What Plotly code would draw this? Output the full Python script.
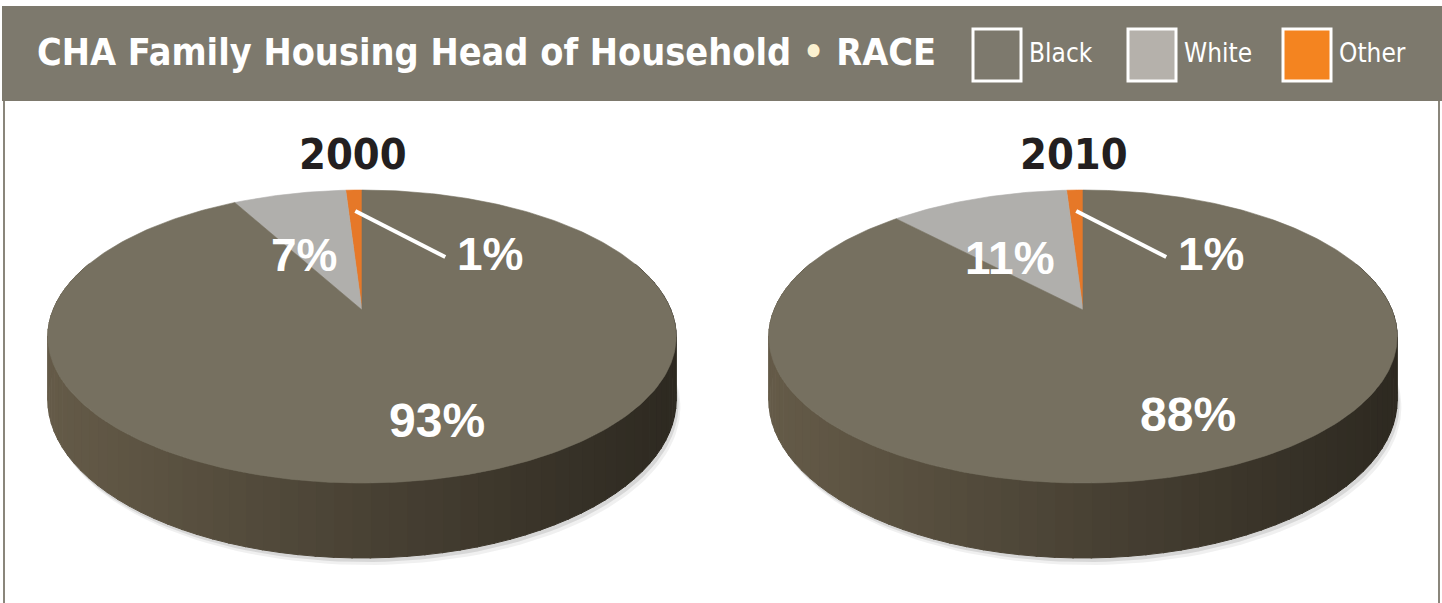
import numpy as np
import plotly.graph_objects as go

# ---------------- data ----------------
categories = ["Black", "White", "Other"]
years = ["2000", "2010"]
values_2000 = [93, 7, 1]
values_2010 = [88, 11, 1]
series = {"2000": values_2000, "2010": values_2010}
title_text = "CHA Family Housing Head of Household"
title_topic = "RACE"

# ---------------- style ----------------
slice_colors = {"Black": (118, 112, 96), "White": (176, 175, 172), "Other": (230, 120, 40)}
legend_colors = {"Black": "#7D796D", "White": "#B5B1AB", "Other": "#F48420"}
draw_order = ["Other", "White", "Black"]  # counter-clockwise from 12 o'clock
HEADER_BG = "#7D796D"
NARROW = "Liberation Sans Narrow, DejaVu Sans Condensed, Liberation Sans, Arial, sans-serif"
BOLDF = "Liberation Sans, Arial, sans-serif"

W, HGT = 1442, 603
pie_centers = {"2000": (362, 310), "2010": (1083, 310)}
RX, RY, PERSP, DEPTH = 309, 141.7, 0.181, 61.4


def project(cx, cy, u, v, drop=0.0):
    w = 1 - PERSP * v
    return cx + RX * u / w, cy + RY * v / w + drop / w


def frac_to_uv(f, r=1.0):
    t = -np.pi / 2 - 2 * np.pi * np.asarray(f)
    return r * np.cos(t), r * np.sin(t)


def rgb(c, s=1.0):
    return "rgb(%d,%d,%d)" % tuple(int(max(0, min(255, x * s))) for x in c)


fig = go.Figure()
annotations = []

for yr in years:
    cx, cy = pie_centers[yr]
    vals = dict(zip(categories, series[yr]))
    total = float(sum(vals.values()))
    bounds = {}
    acc = 0.0
    for cat in draw_order:
        f0 = acc
        acc += vals[cat] / total
        bounds[cat] = (f0, acc)

    def cat_at(f):
        f = f % 1.0
        for cat in draw_order:
            if bounds[cat][0] <= f <= bounds[cat][1]:
                return cat
        return draw_order[-1]

    # soft shadow under the pie
    tt = np.linspace(0, 2 * np.pi, 200)
    for off, alpha in [(7, 0.06), (4, 0.10)]:
        xs, ys = project(cx, cy, np.cos(tt), np.sin(tt), DEPTH)
        fig.add_trace(go.Scatter(x=xs + off * 0.6, y=ys + off, mode="lines", fill="toself",
                                 fillcolor="rgba(0,0,0,%g)" % alpha, line=dict(width=0),
                                 hoverinfo="skip", showlegend=False))

    # side wall, as shaded strips
    ts = np.linspace(-0.35, np.pi + 0.35, 80)
    x_left = cx - RX * 1.02
    x_right = cx + RX * 1.02
    for i in range(len(ts) - 1):
        seg = np.linspace(ts[i], ts[i + 1] + 0.004, 4)
        u, v = np.cos(seg), np.sin(seg)
        xt, yt = project(cx, cy, u, v)
        xb, yb = project(cx, cy, u, v, DEPTH)
        px = np.concatenate([xt, xb[::-1]])
        py = np.concatenate([yt, yb[::-1]])
        tm = (ts[i] + ts[i + 1]) / 2
        fm = ((-np.pi / 2 - tm) / (2 * np.pi)) % 1.0
        xm = np.mean(xt)
        xn = np.clip((xm - x_left) / (x_right - x_left), 0, 1)
        shade = 0.84 - 0.46 * xn
        base = slice_colors[cat_at(fm)]
        warm = (base[0] * 1.02, base[1] * 0.97, base[2] * 0.9)
        col = rgb(warm, shade)
        fig.add_trace(go.Scatter(x=px, y=py, mode="lines", fill="toself", fillcolor=col,
                                 line=dict(color=col, width=1), hoverinfo="skip",
                                 showlegend=False))

    # top face slices
    for cat in draw_order:
        f0, f1 = bounds[cat]
        n = max(3, int((f1 - f0) * 400))
        fr = np.linspace(f0, f1, n)
        u, v = frac_to_uv(fr)
        xs, ys = project(cx, cy, u, v)
        px = np.concatenate([[cx], xs, [cx]])
        py = np.concatenate([[cy], ys, [cy]])
        col = rgb(slice_colors[cat])
        fig.add_trace(go.Scatter(x=px, y=py, mode="lines", fill="toself", fillcolor=col,
                                 line=dict(color=col, width=0.6), hoverinfo="skip",
                                 name=cat, showlegend=False))

    # labels
    for cat in categories:
        f0, f1 = bounds[cat]
        fm = (f0 + f1) / 2
        txt = "<b>%d%%</b>" % vals[cat]
        if cat == "Black":
            u, v = frac_to_uv(fm, 0.72)
            lx, ly = project(cx, cy, u, v)
            annotations.append(dict(x=lx, y=ly, text=txt, showarrow=False, xshift=12, yshift=3,
                                    font=dict(family=BOLDF, size=48, color="white")))
        elif cat == "White":
            u, v = frac_to_uv(fm, 0.45)
            lx, ly = project(cx, cy, u, v)
            annotations.append(dict(x=lx, y=ly, text=txt, showarrow=False, xshift=-22, yshift=-2,
                                    font=dict(family=BOLDF, size=46, color="white")))
        else:
            u, v = frac_to_uv(fm, 0.8)
            sx, sy = project(cx, cy, u, v)
            ex, ey = sx + 90, sy + 46
            fig.add_trace(go.Scatter(x=[sx, ex], y=[sy, ey], mode="lines",
                                     line=dict(color="white", width=4), hoverinfo="skip",
                                     showlegend=False))
            annotations.append(dict(x=ex + 45, y=ey - 3, text=txt, showarrow=False,
                                    font=dict(family=BOLDF, size=46, color="white")))

    # year heading
    annotations.append(dict(x=cx - 9, y=154, text="<b>%s</b>" % yr, showarrow=False,
                            font=dict(family=NARROW, size=43, color="#231F20")))

# ---------------- header ----------------
shapes = [
    dict(type="rect", xref="x", yref="y", x0=2, x1=W, y0=6, y1=101,
         fillcolor=HEADER_BG, line=dict(width=0), layer="below"),
    dict(type="line", xref="x", yref="y", x0=4, x1=4, y0=101, y1=HGT,
         line=dict(color="#8A867B", width=2)),
    dict(type="line", xref="x", yref="y", x0=1439, x1=1439, y0=101, y1=HGT,
         line=dict(color="#8A867B", width=2)),
]

annotations.append(dict(x=35, y=52, xanchor="left", showarrow=False,
                        text="<b>%s <span style='color:#FBF1D0'>•</span> %s</b>" % (title_text, title_topic),
                        font=dict(family=NARROW, size=37.5, color="white")))

for i, cat in enumerate(categories):
    x0 = 973 + i * 155
    shapes.append(dict(type="rect", xref="x", yref="y", x0=x0, x1=x0 + 48, y0=29, y1=81,
                       fillcolor=legend_colors[cat], line=dict(color="white", width=3)))
    annotations.append(dict(x=x0 + 54, y=53, xanchor="left", showarrow=False, text=cat,
                            font=dict(family=NARROW, size=26, color="white")))

fig.update_layout(
    width=W, height=HGT,
    margin=dict(l=0, r=0, t=0, b=0),
    paper_bgcolor="white", plot_bgcolor="white",
    xaxis=dict(range=[0, W], visible=False, fixedrange=True),
    yaxis=dict(range=[HGT, 0], visible=False, fixedrange=True),
    shapes=shapes, annotations=annotations, showlegend=False,
)

fig.write_html("out.html", config={"displayModeBar": False},
               post_script="document.body.style.margin='0';document.body.style.overflow='hidden';")
